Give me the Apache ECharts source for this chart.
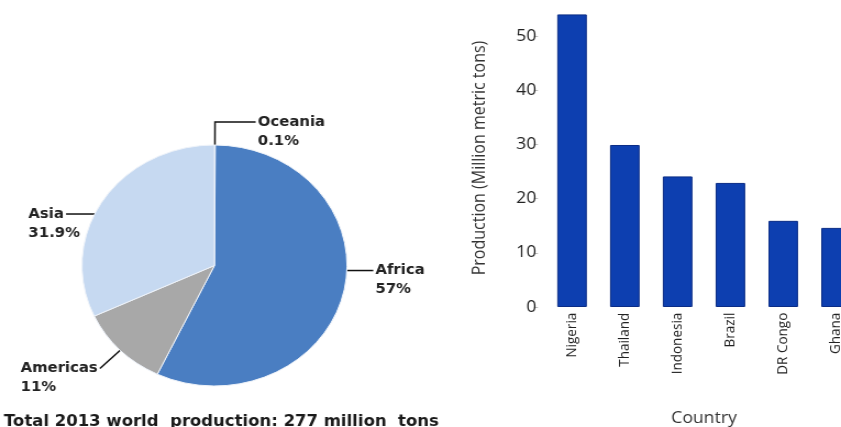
<!DOCTYPE html>
<html>
<head>
<meta charset="utf-8">
<script src="https://cdn.jsdelivr.net/npm/echarts@6/dist/echarts.min.js"></script>
<style>
html,body{margin:0;padding:0;background:#fff;overflow:hidden;width:841px;height:427px}
#c{width:765px;height:427px;transform:scaleX(1.09935);transform-origin:0 0}
</style>
</head>
<body>
<div id="c"></div>
<script>
// Pie data (share of world production, %)
const regions = ['Oceania', 'Africa', 'Americas', 'Asia'];
const regionShares = [0.1, 57, 11, 31.9];
const pieTitle = 'Total 2013 world  production: 277 million  tons';

// Bar data (Million metric tons)
const countries = ['Nigeria', 'Thailand', 'Indonesia', 'Brazil', 'DR Congo', 'Ghana'];
const production = [54, 29.9, 24.1, 22.9, 15.9, 14.6];
const yTicks = [0, 10, 20, 30, 40, 50];

const regionColors = ['#4a7ec2', '#4a7ec2', '#a8a8a8', '#c6d9f1'];
const lineCfg = {
  Oceania: {length: 23, length2: 37},
  Africa: {length: 0, length2: 27},
  Americas: {length: 26, length2: 0},
  Asia: {length: 0, length2: 33.5}
};
const labelShift = [0, -22, 0, 13.4];

const pieCenter = [195.1, 265.5];
const pieRadius = 120.5;

const chart = echarts.init(document.getElementById('c'));
chart.setOption({
  animation: false,
  backgroundColor: '#fff',
  title: {
    text: pieTitle, left: 3.6, top: 415, padding: 0,
    textStyle: {fontFamily: 'DejaVu Sans', fontWeight: 'bold', fontSize: 15, color: '#1a1a1a'}
  },
  grid: {left: 496.3, top: 9, width: 288.2, height: 298, outerBoundsMode: 'none'},
  xAxis: {
    type: 'category', data: countries,
    axisLine: {show: false}, axisTick: {show: false},
    axisLabel: {rotate: 90, margin: 5.7, fontFamily: 'Open Sans', fontSize: 13.5, color: '#222'},
    name: 'Country', nameLocation: 'middle', nameGap: 103,
    nameTextStyle: {fontFamily: 'Open Sans', fontSize: 16, color: '#333'}
  },
  yAxis: {
    type: 'value', min: 0, max: 55, offset: 7,
    splitLine: {show: false}, axisLine: {show: false},
    axisTick: {show: true, length: 3.5, lineStyle: {color: '#bbbbbb'}, customValues: yTicks},
    axisLabel: {margin: 1.5, fontFamily: 'Open Sans', fontSize: 16, color: '#222', customValues: yTicks},
    name: 'Production (Million metric tons)', nameLocation: 'middle', nameGap: 45,
    nameTextStyle: {fontFamily: 'Open Sans', fontSize: 16, color: '#333'}
  },
  series: [
    {
      type: 'bar', data: production, barWidth: '56%',
      itemStyle: {color: '#0d3fb0', borderColor: '#0a2c86', borderWidth: 1}
    },
    {
      type: 'pie', center: pieCenter, radius: pieRadius, startAngle: 90, clockwise: true,
      data: regions.map((n, i) => ({
        name: n, value: regionShares[i],
        itemStyle: {color: regionColors[i]},
        labelLine: lineCfg[n]
      })),
      itemStyle: {borderColor: '#eef3fa', borderWidth: 1},
      label: {
        show: true, position: 'outside', distanceToLabelLine: 2,
        formatter: p => '{a|' + p.name + '}\n{b|' + p.value + '%}',
        padding: [19, 0, 0, 0],
        rich: {
          a: {align: 'left', fontFamily: 'DejaVu Sans', fontWeight: 'bold', fontSize: 13.5, lineHeight: 19, color: '#222'},
          b: {align: 'left', width: 10, fontFamily: 'DejaVu Sans', fontWeight: 'bold', fontSize: 13.5, lineHeight: 19, color: '#222'}
        }
      },
      labelLayout: p => {
        const dy = labelShift[p.dataIndex];
        if (!dy || !p.labelLinePoints) return {};
        const pts = p.labelLinePoints;
        const end = pts[pts.length - 1];
        const yNew = end[1] + dy;
        const side = end[0] > pieCenter[0] ? 1 : -1;
        const xEdge = pieCenter[0] + side * Math.sqrt(pieRadius * pieRadius - (yNew - pieCenter[1]) ** 2);
        return {dy: dy, labelLinePoints: [[xEdge, yNew], [xEdge, yNew], [end[0], yNew]]};
      },
      labelLine: {show: true, lineStyle: {color: '#111', width: 1.5}},
      emphasis: {disabled: true}
    }
  ]
});
</script>
</body>
</html>
